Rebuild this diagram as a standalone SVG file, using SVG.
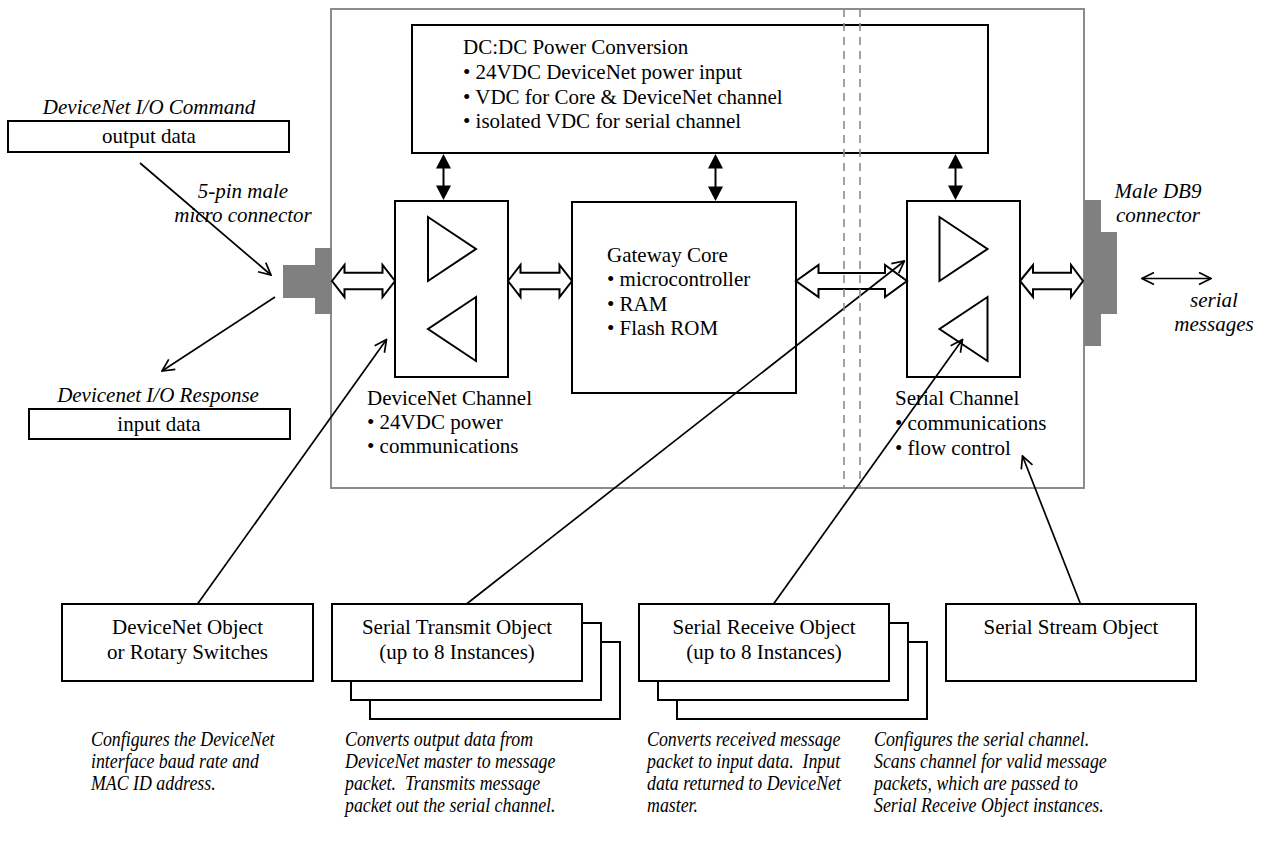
<svg xmlns="http://www.w3.org/2000/svg" width="1267" height="847" viewBox="0 0 1267 847">
  <defs>
    <style>
      .t { font-family: "Liberation Serif", "Times New Roman", serif; font-size: 21px; fill: #000; }
      .i { font-style: italic; }
      .c { text-anchor: middle; }
      .box { fill: #fff; stroke: #000; stroke-width: 2; }
      .frame { fill: none; stroke: #8c8c8c; stroke-width: 2; }
      .dash { stroke: #8c8c8c; stroke-width: 1.6; stroke-dasharray: 8 6; fill: none; }
      .thin { stroke: #000; stroke-width: 1.7; fill: none; }
      .blk { fill: #fff; stroke: #000; stroke-width: 2; stroke-linejoin: miter; }
      .plug { fill: #808080; stroke: none; }
      .solid { fill: #000; stroke: none; }
      .amp { fill: none; stroke: #000; stroke-width: 2; stroke-linejoin: miter; }
    </style>
    <marker id="open" viewBox="0 0 14 14" refX="13" refY="7" markerWidth="14" markerHeight="14" markerUnits="userSpaceOnUse" orient="auto-start-reverse">
      <path d="M1,1 L13,7 L1,13" fill="none" stroke="#000" stroke-width="1.7"/>
    </marker>
  </defs>

  <!-- gateway enclosure -->
  <g id="enclosure">
    <rect class="frame" x="331" y="9" width="753" height="479"/>
  </g>

  <!-- DC:DC power conversion -->
  <g id="power">
    <rect class="box" x="412" y="25" width="576" height="128"/>
    <text class="t" x="463" y="54">DC:DC Power Conversion</text>
    <text class="t" x="463" y="79">• 24VDC DeviceNet power input</text>
    <text class="t" x="463" y="103.5">• VDC for Core &amp; DeviceNet channel</text>
    <text class="t" x="463" y="128">• isolated VDC for serial channel</text>
  </g>

  <!-- DeviceNet channel -->
  <g id="devicenet-channel">
    <rect class="box" x="395" y="201" width="113" height="176"/>
    <polygon class="amp" points="428,217 428,281 476,249"/>
    <polygon class="amp" points="476,297 476,361 428,329"/>
    <text class="t" x="367" y="405">DeviceNet Channel</text>
    <text class="t" x="367" y="429">• 24VDC power</text>
    <text class="t" x="367" y="453">• communications</text>
  </g>

  <!-- gateway core -->
  <g id="gateway-core">
    <rect class="box" x="572" y="202" width="224" height="191"/>
    <text class="t" x="607" y="261.5">Gateway Core</text>
    <text class="t" x="607" y="286">• microcontroller</text>
    <text class="t" x="607" y="310.5">• RAM</text>
    <text class="t" x="607" y="335">• Flash ROM</text>
  </g>

  <!-- serial channel -->
  <g id="serial-channel">
    <rect class="box" x="907" y="201" width="113" height="176"/>
    <polygon class="amp" points="939.5,217 939.5,281 987.5,249"/>
    <polygon class="amp" points="987.5,297 987.5,361 939.5,329"/>
    <text class="t" x="895" y="405">Serial Channel</text>
    <text class="t" x="895" y="430">• communications</text>
    <text class="t" x="895" y="455">• flow control</text>
  </g>

  <!-- connectors on the enclosure -->
  <g id="micro-connector">
    <polygon class="plug" points="283,265 315,265 315,248 332,248 332,314 315,314 315,298 283,298"/>
    <text class="t i c" x="243" y="198">5-pin male</text>
    <text class="t i c" x="243" y="222">micro connector</text>
  </g>
  <g id="db9-connector">
    <polygon class="plug" points="1084,200 1101,200 1101,232 1117,232 1117,314 1101,314 1101,346 1084,346"/>
    <text class="t i c" x="1158" y="198">Male DB9</text>
    <text class="t i c" x="1158" y="222">connector</text>
  </g>

  <!-- DeviceNet I/O data -->
  <g id="io-command">
    <text class="t i c" x="149" y="114">DeviceNet I/O Command</text>
    <rect class="box" x="8" y="121" width="281" height="31"/>
    <text class="t c" x="149" y="143">output data</text>
  </g>
  <g id="io-response">
    <text class="t i c" x="158" y="402">Devicenet I/O Response</text>
    <rect class="box" x="29" y="409" width="261" height="30"/>
    <text class="t c" x="159" y="431">input data</text>
  </g>
  <g id="serial-messages">
    <text class="t i c" x="1214" y="307">serial</text>
    <text class="t i c" x="1214" y="331">messages</text>
  </g>

  <!-- object boxes -->
  <g id="devicenet-object">
    <rect class="box" x="62" y="604" width="251" height="77"/>
    <text class="t c" x="187.5" y="634">DeviceNet Object</text>
    <text class="t c" x="187.5" y="659">or Rotary Switches</text>
  </g>
  <g id="serial-transmit-object">
    <rect class="box" x="370" y="642" width="250" height="77"/>
    <rect class="box" x="351" y="623" width="250" height="77"/>
    <rect class="box" x="332" y="604" width="250" height="77"/>
    <text class="t c" x="457" y="634">Serial Transmit Object</text>
    <text class="t c" x="457" y="659">(up to 8 Instances)</text>
  </g>
  <g id="serial-receive-object">
    <rect class="box" x="677" y="642" width="250" height="77"/>
    <rect class="box" x="658" y="623" width="250" height="77"/>
    <rect class="box" x="639" y="604" width="250" height="77"/>
    <text class="t c" x="764" y="634">Serial Receive Object</text>
    <text class="t c" x="764" y="659">(up to 8 Instances)</text>
  </g>
  <g id="serial-stream-object">
    <rect class="box" x="946" y="604" width="250" height="77"/>
    <text class="t c" x="1071" y="634">Serial Stream Object</text>
  </g>

  <!-- object descriptions (narrow italic) -->
  <g id="descriptions" class="t i">
    <g transform="translate(91,0) scale(0.85,1)">
      <text x="0" y="746">Configures the DeviceNet</text>
      <text x="0" y="768">interface baud rate and</text>
      <text x="0" y="790">MAC ID address.</text>
    </g>
    <g transform="translate(345,0) scale(0.85,1)">
      <text x="0" y="746">Converts output data from</text>
      <text x="0" y="768">DeviceNet master to message</text>
      <text x="0" y="790" xml:space="preserve">packet.  Transmits message</text>
      <text x="0" y="812">packet out the serial channel.</text>
    </g>
    <g transform="translate(647,0) scale(0.85,1)">
      <text x="0" y="746">Converts received message</text>
      <text x="0" y="768" xml:space="preserve">packet to input data.  Input</text>
      <text x="0" y="790">data returned to DeviceNet</text>
      <text x="0" y="812">master.</text>
    </g>
    <g transform="translate(874,0) scale(0.85,1)">
      <text x="0" y="746">Configures the serial channel.</text>
      <text x="0" y="768">Scans channel for valid message</text>
      <text x="0" y="790">packets, which are passed to</text>
      <text x="0" y="812">Serial Receive Object instances.</text>
    </g>
  </g>

  <!-- connectors -->
  <g id="connectors">
    <!-- data paths (hollow double arrows) -->
    <path class="blk" d="M332,281 L344.5,265 L344.5,272.7 L382.5,272.7 L382.5,265 L395,281 L382.5,297 L382.5,289.3 L344.5,289.3 L344.5,297 Z"/>
    <path class="blk" d="M508,281 L520.5,265 L520.5,272.7 L559.5,272.7 L559.5,265 L572,281 L559.5,297 L559.5,289.3 L520.5,289.3 L520.5,297 Z"/>
    <path class="blk" d="M796,281 L818.5,265 L818.5,273 L885,273 L885,265 L907,281 L885,297 L885,289 L818.5,289 L818.5,297 Z"/>
    <path class="blk" d="M1020,281 L1033,265 L1033,272.7 L1071,272.7 L1071,265 L1083,281 L1071,297 L1071,289.3 L1033,289.3 L1033,297 Z"/>

    <!-- power feeds (solid double arrows) -->
    <line class="thin" style="stroke-width:2" x1="443.5" y1="166" x2="443.5" y2="188"/>
    <polygon class="solid" points="443.5,154 436,168.5 451,168.5"/>
    <polygon class="solid" points="443.5,200 436,185.5 451,185.5"/>
    <line class="thin" style="stroke-width:2" x1="715.5" y1="166" x2="715.5" y2="189"/>
    <polygon class="solid" points="715.5,154 708,168.5 723,168.5"/>
    <polygon class="solid" points="715.5,201 708,186.5 723,186.5"/>
    <line class="thin" style="stroke-width:2" x1="955.5" y1="166" x2="955.5" y2="188"/>
    <polygon class="solid" points="955.5,154 948,168.5 963,168.5"/>
    <polygon class="solid" points="955.5,200 948,185.5 963,185.5"/>

    <!-- I/O data to and from the micro connector -->
    <line class="thin" x1="140" y1="163" x2="271" y2="275" marker-end="url(#open)"/>
    <line class="thin" x1="275" y1="297" x2="162" y2="371" marker-end="url(#open)"/>

    <!-- serial messages -->
    <line class="thin" x1="1142" y1="278.5" x2="1211" y2="278.5" marker-start="url(#open)" marker-end="url(#open)"/>

    <!-- objects to the hardware they configure -->
    <line class="thin" x1="197.5" y1="604" x2="386.5" y2="339.5" marker-end="url(#open)"/>
    <line class="thin" x1="466.5" y1="604" x2="904.5" y2="261" marker-end="url(#open)"/>
    <line class="thin" x1="773.5" y1="604" x2="962.5" y2="339.5" marker-end="url(#open)"/>
    <line class="thin" x1="1080.5" y1="604" x2="1022.5" y2="456" marker-end="url(#open)"/>
  </g>

  <!-- isolation barrier between the DeviceNet side and the serial side -->
  <g id="isolation-barrier">
    <line class="dash" x1="844" y1="9" x2="844" y2="488"/>
    <line class="dash" x1="860" y1="9" x2="860" y2="488"/>
  </g>
</svg>
